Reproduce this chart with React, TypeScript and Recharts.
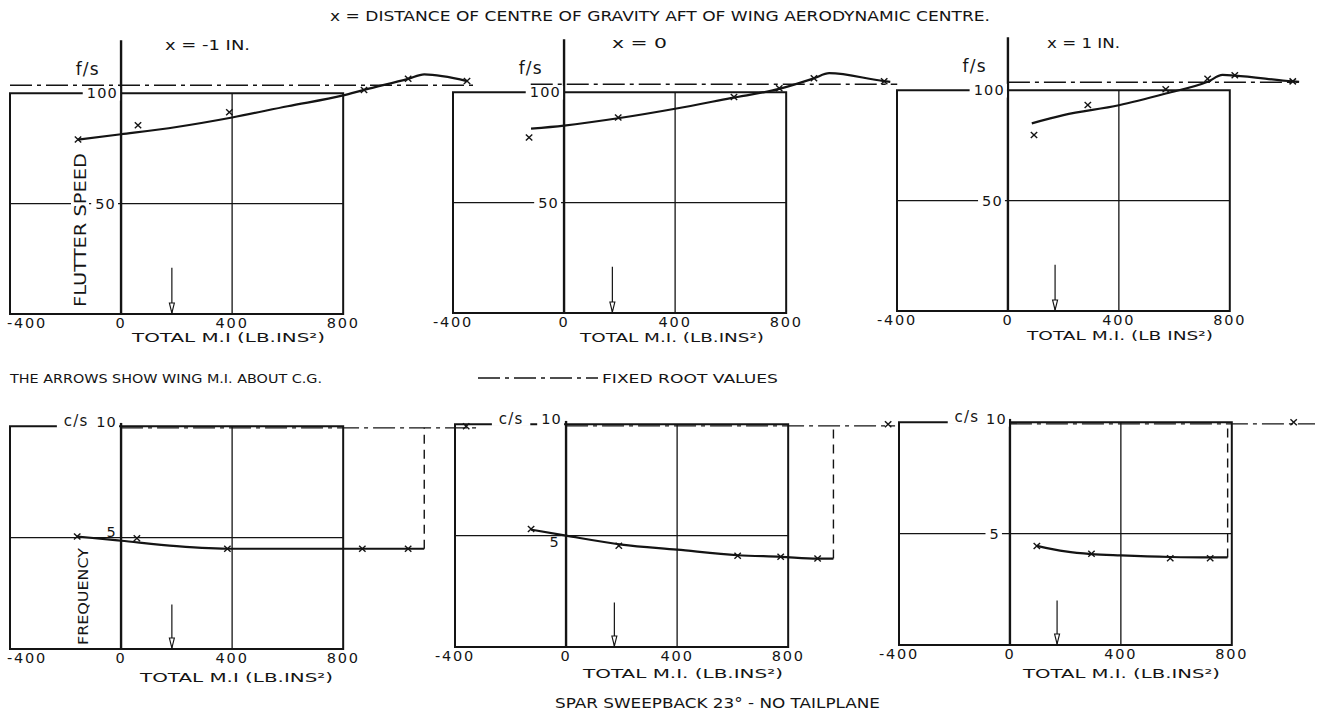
import React from 'react';
import {
  ComposedChart, Line, Scatter, XAxis, YAxis,
  ReferenceArea, ReferenceLine, ReferenceDot,
} from 'recharts';

const FONT = '"DejaVu Sans", "Liberation Sans", sans-serif';
const INK = '#141414';

// shared axis ticks (total M.I., lb.in^2)
const miTicks = [-400, 0, 400, 800];

// fixed root values
const fixedSpeed = 103.6;
const fixedFreq = 9.93;

// wing M.I. about C.G. (the arrows), for x = -1, 0, 1 in.
const wingMI = [183, 174, 170];

// flutter speed (f/s), x = -1 in.
const fsMarkMI1 = [-155, 61, 390, 875, 1034, 1246];
const fsMark1 = [79, 85.5, 91.4, 101.5, 106.5, 105.5];
const fsCurveMI1 = [-155, 0, 200, 400, 600, 800, 875, 1034, 1092, 1246];
const fsCurve1 = [79, 81.4, 84.7, 89, 94.1, 99, 101.5, 106.5, 108.5, 105.5];

// flutter speed, x = 0
const fsMarkMI2 = [-126, 195, 612, 775, 900, 1153];
const fsMark2 = [79.5, 88.5, 97.8, 101.8, 106.3, 105];
const fsCurveMI2 = [-119, 0, 200, 400, 600, 775, 900, 955, 1153, 1175];
const fsCurve2 = [83.5, 84.9, 88.3, 92.5, 97.3, 101.5, 106.3, 108.6, 105, 104.7];

// flutter speed, x = 1 in.
const fsMarkMI3 = [94, 288, 569, 720, 818, 1027];
const fsMark3 = [79.7, 93.3, 100.4, 105.2, 106.8, 104];
const fsCurveMI3 = [86, 200, 400, 569, 720, 774, 818, 1027, 1050];
const fsCurve3 = [85, 88.7, 93.2, 98.5, 103.8, 106.9, 106.6, 104, 103.8];

// frequency (c/s), x = -1 in.
const cfMarkMI1 = [-158, 57, 383, 869, 1034, 1243];
const cfMark1 = [5.05, 4.97, 4.5, 4.5, 4.5, 10];
const cfCurveMI1 = [-158, 0, 200, 400, 869, 1034, 1092];
const cfCurve1 = [5.05, 4.86, 4.62, 4.5, 4.5, 4.5, 4.5];

// frequency, x = 0
const cfMarkMI2 = [-126, 190, 618, 773, 906, 1160];
const cfMark2 = [5.3, 4.55, 4.1, 4.05, 3.97, 10];
const cfCurveMI2 = [-126, 0, 200, 400, 618, 773, 906, 963];
const cfCurve2 = [5.27, 5.0, 4.6, 4.37, 4.12, 4.05, 3.97, 3.97];

// frequency, x = 1 in.
const cfMarkMI3 = [97, 294, 578, 722, 1023];
const cfMark3 = [4.45, 4.1, 3.9, 3.9, 10];
const cfCurveMI3 = [97, 200, 294, 400, 578, 722, 785];
const cfCurve3 = [4.45, 4.2, 4.08, 4.02, 3.95, 3.93, 3.93];

type Row = { mi: number; v: number };
const rows = (xs: number[], ys: number[]): Row[] => xs.map((mi, i) => ({ mi, v: ys[i] }));

type Lbl = { x: number; y: number; text: string; dx?: number; dy?: number; anchor?: string; bg?: boolean; size?: number };

type PanelCfg = {
  kind: 'speed' | 'freq';
  left: number; top: number; plotW: number; plotH: number; xMax: number;
  edge: boolean;
  curve: Row[]; marks: Row[];
  fixedFrom: number; fixedTo: number;
  arrow: number;
  labels: Lbl[];
};

const speedLabels: Lbl[] = [
  { x: 0, y: 100, text: '100', dx: -3 },
  { x: 0, y: 50, text: '50', dx: -5 },
  { x: -120, y: 111, text: 'f/s', anchor: 'middle', bg: false, size: 17 },
];

const panels: PanelCfg[] = [
  { kind: 'speed', left: 10, top: 38, plotW: 472, plotH: 276, xMax: 1300, edge: true,
    curve: rows(fsCurveMI1, fsCurve1), marks: rows(fsMarkMI1, fsMark1),
    fixedFrom: -400, fixedTo: 1280, arrow: wingMI[0], labels: speedLabels },
  { kind: 'speed', left: 453, top: 37, plotW: 472, plotH: 276, xMax: 1300, edge: false,
    curve: rows(fsCurveMI2, fsCurve2), marks: rows(fsMarkMI2, fsMark2),
    fixedFrom: -120, fixedTo: 1200, arrow: wingMI[1], labels: speedLabels },
  { kind: 'speed', left: 897, top: 35, plotW: 416, plotH: 276, xMax: 1100, edge: false,
    curve: rows(fsCurveMI3, fsCurve3), marks: rows(fsMarkMI3, fsMark3),
    fixedFrom: 0, fixedTo: 1045, arrow: wingMI[2], labels: speedLabels },
  { kind: 'freq', left: 10, top: 404, plotW: 472, plotH: 245, xMax: 1300, edge: true,
    curve: rows(cfCurveMI1, cfCurve1), marks: rows(cfMarkMI1, cfMark1),
    fixedFrom: 0, fixedTo: 1290, arrow: wingMI[0],
    labels: [
      { x: 0, y: 10, text: '10', dx: -4, dy: -4 },
      { x: 0, y: 5, text: '5', dx: -4, dy: -6, bg: false },
      { x: -162, y: 10, text: 'c/s', anchor: 'middle', dy: -6, size: 15 },
    ] },
  { kind: 'freq', left: 455, top: 402, plotW: 472, plotH: 245, xMax: 1300, edge: false,
    curve: rows(cfCurveMI2, cfCurve2), marks: rows(cfMarkMI2, cfMark2),
    fixedFrom: 0, fixedTo: 1185, arrow: wingMI[1],
    labels: [
      { x: 0, y: 10, text: '10', dx: -4, dy: -5 },
      { x: 0, y: 5, text: '5', dx: -6, dy: 6, bg: false },
      { x: -198, y: 10, text: 'c/s', anchor: 'middle', dy: -6, size: 15 },
    ] },
  { kind: 'freq', left: 899, top: 400, plotW: 416, plotH: 245, xMax: 1100, edge: false,
    curve: rows(cfCurveMI3, cfCurve3), marks: rows(cfMarkMI3, cfMark3),
    fixedFrom: 0, fixedTo: 1100, arrow: wingMI[2],
    labels: [
      { x: 0, y: 10, text: '10', dx: -3, dy: -3 },
      { x: 0, y: 5, text: '5', dx: -10, dy: 0 },
      { x: -155, y: 10, text: 'c/s', anchor: 'middle', dy: -6, size: 15 },
    ] },
];

function MiTick(props: any) {
  const { x, y, payload, edge } = props;
  const start = edge && payload.value === -400;
  return (
    <text x={start ? x - 3 : x} y={y + 14} textAnchor={start ? 'start' : 'middle'}
      fontFamily={FONT} fontSize={14.5} letterSpacing={1.8} fill={INK}>
      {payload.value}
    </text>
  );
}

function Cross(props: any) {
  const { cx, cy } = props;
  return (
    <g stroke={INK} strokeWidth={1.4}>
      <line x1={cx - 3.2} y1={cy - 3} x2={cx + 3.2} y2={cy + 3} />
      <line x1={cx - 3.2} y1={cy + 3} x2={cx + 3.2} y2={cy - 3} />
    </g>
  );
}

function ArrowHead(props: any) {
  const { cx, cy } = props;
  return <polygon points={`${cx - 2.5},${cy - 11} ${cx + 2.5},${cy - 11} ${cx},${cy - 1}`} fill="#fff" stroke={INK} strokeWidth={1.1} />;
}

function makeLabel(l: Lbl) {
  return (props: any) => {
    const { cx, cy } = props;
    const size = l.size ?? 14.5;
    const anchor = l.anchor ?? 'end';
    const tx = cx + (l.dx ?? 0);
    const base = cy + (l.dy ?? 0) + size * 0.36;
    const w = l.text.length * size * 0.72 + 6;
    const rx = anchor === 'end' ? tx - w + 2 : tx - w / 2;
    return (
      <g>
        {l.bg !== false && <rect x={rx} y={base - size * 0.8} width={w} height={size * 0.95} fill="#fff" />}
        <text x={tx} y={base} textAnchor={anchor} fontFamily={FONT} fontSize={size} letterSpacing={1.2} fill={INK}>{l.text}</text>
      </g>
    );
  };
}

function Panel({ cfg }: { cfg: PanelCfg }) {
  const speed = cfg.kind === 'speed';
  const yMax = speed ? 125 : 11;
  const frameTop = speed ? 100 : 10;
  const mid = speed ? 50 : 5;
  const axisTop = speed ? 124 : 10.15;
  const fixed = speed ? fixedSpeed : fixedFreq;
  const arrowTop = speed ? 21 : 2;
  const last = cfg.curve[cfg.curve.length - 1];
  return (
    <div style={{ position: 'absolute', left: cfg.left - 30, top: cfg.top - 20 }}>
      <ComposedChart width={cfg.plotW + 40} height={cfg.plotH + 46} margin={{ top: 20, right: 10, bottom: 0, left: 30 }}>
        <XAxis type="number" dataKey="mi" domain={[-400, cfg.xMax]} ticks={miTicks} interval={0}
          axisLine={false} tickLine={false} tickSize={0} tickMargin={0} height={26}
          tick={<MiTick edge={cfg.edge} />} allowDataOverflow />
        <YAxis type="number" domain={[0, yMax]} hide allowDataOverflow />
        <ReferenceArea x1={-400} x2={800} y1={0} y2={frameTop} fill="none" fillOpacity={0} stroke={INK} strokeWidth={2} />
        <ReferenceLine segment={[{ x: -400, y: mid }, { x: 800, y: mid }]} stroke={INK} strokeWidth={1.3} />
        <ReferenceLine segment={[{ x: 400, y: 0 }, { x: 400, y: frameTop }]} stroke={INK} strokeWidth={1.3} />
        <ReferenceLine segment={[{ x: 0, y: 0 }, { x: 0, y: axisTop }]} stroke={INK} strokeWidth={2.4} />
        <ReferenceLine segment={[{ x: cfg.fixedFrom, y: fixed }, { x: cfg.fixedTo, y: fixed }]} stroke={INK} strokeWidth={1.4} strokeDasharray="22 5 4 5" />
        {!speed && (
          <ReferenceLine segment={[{ x: last.mi, y: last.v }, { x: last.mi, y: fixed }]} stroke={INK} strokeWidth={1.4} strokeDasharray="9 6" />
        )}
        <ReferenceLine segment={[{ x: cfg.arrow, y: arrowTop }, { x: cfg.arrow, y: 0 }]} stroke={INK} strokeWidth={1.2} />
        <ReferenceDot x={cfg.arrow} y={0} r={0} shape={ArrowHead} />
        {cfg.labels.map((l, i) => (
          <ReferenceDot key={i} x={l.x} y={l.y} r={0} shape={makeLabel(l)} />
        ))}
        <Line data={cfg.curve} dataKey="v" type="monotone" dot={false} stroke={INK} strokeWidth={2.2} isAnimationActive={false} />
        <Scatter data={cfg.marks} dataKey="v" shape={Cross} isAnimationActive={false} />
      </ComposedChart>
    </div>
  );
}

function T(props: any) {
  return <text fontFamily={FONT} fill={INK} lengthAdjust="spacingAndGlyphs" {...props} />;
}

export default function App() {
  return (
    <div style={{ position: 'absolute', left: 0, top: 0, width: 1321, height: 711, background: '#fff', overflow: 'hidden' }}>
      {panels.map((p, i) => <Panel key={i} cfg={p} />)}
      <svg width={1321} height={711} style={{ position: 'absolute', left: 0, top: 0, pointerEvents: 'none' }}>
        <T x={330} y={21} fontSize={13.5} textLength={660}>x = DISTANCE OF CENTRE OF GRAVITY  AFT OF WING AERODYNAMIC CENTRE.</T>
        <T x={165} y={50} fontSize={13.5} textLength={85}>x = -1 IN.</T>
        <T x={612} y={48} fontSize={13.5} textLength={55}>x = 0</T>
        <T x={1047} y={48} fontSize={13.5} textLength={73}>x = 1 IN.</T>
        <g transform="translate(80,230) rotate(-90)">
          <rect x={-80} y={-9} width={160} height={18} fill="#fff" />
          <T x={-77} y={6} fontSize={16} textLength={154}>FLUTTER SPEED</T>
        </g>
        <g transform="translate(83,597) rotate(-90)">
          <T x={-48} y={5} fontSize={13.5} textLength={97}>FREQUENCY</T>
        </g>
        <T x={132} y={342} fontSize={12.5} textLength={193}>TOTAL M.I (LB.INS²)</T>
        <T x={580} y={342} fontSize={12.5} textLength={184}>TOTAL M.I. (LB.INS²)</T>
        <T x={1027} y={340} fontSize={12.5} textLength={186}>TOTAL M.I. (LB INS²)</T>
        <T x={10} y={383} fontSize={12.5} textLength={312}>THE ARROWS SHOW WING M.I. ABOUT C.G.</T>
        <line x1={478} y1={378} x2={598} y2={378} stroke={INK} strokeWidth={1.4} strokeDasharray="22 5 4 5" />
        <T x={602} y={383} fontSize={12.5} textLength={176}>FIXED ROOT VALUES</T>
        <T x={140} y={682} fontSize={12.5} textLength={193}>TOTAL M.I (LB.INS²)</T>
        <T x={583} y={678} fontSize={12.5} textLength={200}>TOTAL M.I. (LB.INS²)</T>
        <T x={1023} y={678} fontSize={12.5} textLength={197}>TOTAL M.I. (LB.INS²)</T>
        <T x={555} y={708} fontSize={13.5} textLength={325}>SPAR SWEEPBACK 23° - NO TAILPLANE</T>
      </svg>
    </div>
  );
}
